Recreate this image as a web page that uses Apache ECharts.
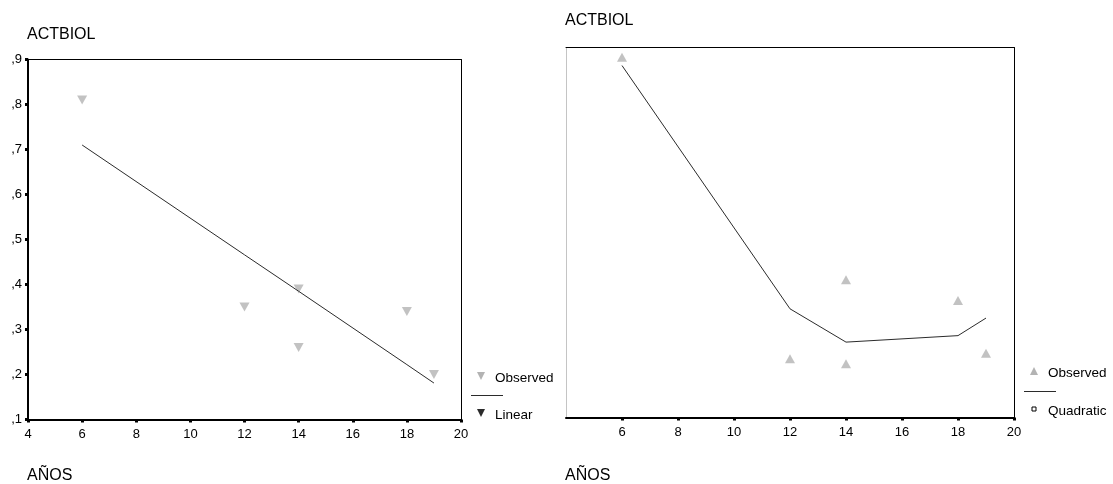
<!DOCTYPE html>
<html>
<head>
<meta charset="utf-8">
<script src="https://cdn.jsdelivr.net/npm/echarts@6/dist/echarts.min.js"></script>
<style>
  html, body { margin: 0; padding: 0; background: #fff; }
  #chart { width: 1113px; height: 484px; }
</style>
</head>
<body>
<div id="chart"></div>
<script>
// years of schooling (AÑOS) for each case
const years = [6, 12, 14, 14, 18, 19];
// left panel: observed ACTBIOL and linear fit
const observedLeft = [0.81, 0.35, 0.39, 0.26, 0.34, 0.20];
const fitYears = [6, 12, 14, 18, 19];
const linearFit = [0.71, 0.466, 0.385, 0.222, 0.181];
// right panel: observed ACTBIOL and quadratic fit (no y labels shown)
const observedRight = [0.879, 0.227, 0.398, 0.216, 0.353, 0.239];
const quadraticFit = [0.861, 0.335, 0.263, 0.277, 0.315];
// tick labels
const yTickLabels = [',1', ',2', ',3', ',4', ',5', ',6', ',7', ',8', ',9'];

const FONT = '"Liberation Sans", Arial, sans-serif';
const GRAY = '#b3b3b3';
const DARK = '#2b2b2b';

const pairs = (xs, ys) => xs.map((x, i) => [x, ys[i]]);

const chart = echarts.init(document.getElementById('chart'));

function bottomAxis(grid, hideMin) {
  return {
    type: 'value', gridIndex: grid, position: 'bottom',
    min: 4, max: 20, interval: 2,
    splitLine: { show: false },
    axisLine: { lineStyle: { color: '#000', width: 2 } },
    axisTick: { show: true, length: 3, lineStyle: { color: '#000', width: 3 } },
    axisLabel: {
      color: '#000', fontSize: 13, fontFamily: FONT, margin: 8,
      showMinLabel: !hideMin
    }
  };
}
function topAxis(grid) {
  return {
    type: 'value', gridIndex: grid, position: 'top',
    min: 4, max: 20,
    splitLine: { show: false }, axisTick: { show: false }, axisLabel: { show: false },
    axisLine: { lineStyle: { color: '#000', width: 1 } }
  };
}
function rightAxis(grid) {
  return {
    type: 'value', gridIndex: grid, position: 'right',
    min: 0.1, max: 0.9,
    splitLine: { show: false }, axisTick: { show: false }, axisLabel: { show: false },
    axisLine: { lineStyle: { color: '#000', width: 1 } }
  };
}

const option = {
  animation: false,
  backgroundColor: '#fff',
  textStyle: { fontFamily: FONT },
  title: [
    { text: 'ACTBIOL', left: 27, top: 27, padding: 0,
      textStyle: { fontSize: 16, fontWeight: 'normal', color: '#000', fontFamily: FONT, lineHeight: 16 } },
    { text: 'ACTBIOL', left: 565, top: 13, padding: 0,
      textStyle: { fontSize: 16, fontWeight: 'normal', color: '#000', fontFamily: FONT, lineHeight: 16 } },
    { text: 'AÑOS', left: 27, top: 468, padding: 0,
      textStyle: { fontSize: 16, fontWeight: 'normal', color: '#000', fontFamily: FONT, lineHeight: 16 } },
    { text: 'AÑOS', left: 565, top: 468, padding: 0,
      textStyle: { fontSize: 16, fontWeight: 'normal', color: '#000', fontFamily: FONT, lineHeight: 16 } }
  ],
  grid: [
    { left: 28, top: 59.5, width: 433, height: 360 },
    { left: 566, top: 47.5, width: 448, height: 370 }
  ],
  xAxis: [
    bottomAxis(0, false), topAxis(0),
    bottomAxis(1, true), topAxis(1)
  ],
  yAxis: [
    {
      type: 'value', gridIndex: 0, position: 'left',
      min: 0.1, max: 0.9, interval: 0.1,
      splitLine: { show: false },
      axisLine: { lineStyle: { color: '#000', width: 2 } },
      axisTick: { show: true, length: 3, lineStyle: { color: '#000', width: 3 } },
      axisLabel: {
        color: '#000', fontSize: 13, fontFamily: FONT, margin: 6,
        formatter: v => yTickLabels[Math.round(v * 10) - 1]
      }
    },
    rightAxis(0),
    {
      type: 'value', gridIndex: 1, position: 'left',
      min: 0.1, max: 0.9,
      splitLine: { show: false }, axisTick: { show: false }, axisLabel: { show: false },
      axisLine: { lineStyle: { color: '#c4c4c4', width: 1 } }
    },
    rightAxis(1)
  ],
  series: [
    {
      name: 'Observed', type: 'scatter', xAxisIndex: 0, yAxisIndex: 0,
      symbol: 'triangle', symbolRotate: 180, symbolSize: [10, 9],
      itemStyle: { color: GRAY },
      data: pairs(years, observedLeft)
    },
    {
      name: 'Linear', type: 'line', xAxisIndex: 0, yAxisIndex: 0,
      symbol: 'none', lineStyle: { color: DARK, width: 1 },
      data: pairs(fitYears, linearFit)
    },
    {
      name: 'Observed', type: 'scatter', xAxisIndex: 2, yAxisIndex: 2,
      symbol: 'triangle', symbolSize: [10, 9],
      itemStyle: { color: GRAY },
      data: pairs(years, observedRight)
    },
    {
      name: 'Quadratic', type: 'line', xAxisIndex: 2, yAxisIndex: 2,
      symbol: 'none', lineStyle: { color: DARK, width: 1 },
      data: pairs(fitYears, quadraticFit)
    }
  ],
  graphic: [
    // left legend
    { type: 'polygon', shape: { points: [[477, 372], [485, 372], [481, 380]] }, style: { fill: GRAY } },
    { type: 'text', x: 495, y: 378, style: { text: 'Observed', font: '13.5px ' + FONT, fill: '#000', verticalAlign: 'middle' } },
    { type: 'line', shape: { x1: 471, y1: 395.5, x2: 503, y2: 395.5 }, style: { stroke: DARK, lineWidth: 1 } },
    { type: 'polygon', shape: { points: [[477, 409], [485, 409], [481, 417]] }, style: { fill: DARK } },
    { type: 'text', x: 495, y: 415, style: { text: 'Linear', font: '13.5px ' + FONT, fill: '#000', verticalAlign: 'middle' } },
    // right legend
    { type: 'polygon', shape: { points: [[1030, 375], [1038, 375], [1034, 367]] }, style: { fill: GRAY } },
    { type: 'text', x: 1048, y: 373, style: { text: 'Observed', font: '13.5px ' + FONT, fill: '#000', verticalAlign: 'middle' } },
    { type: 'line', shape: { x1: 1024, y1: 391.5, x2: 1056, y2: 391.5 }, style: { stroke: DARK, lineWidth: 1 } },
    { type: 'rect', shape: { x: 1032, y: 407, width: 4, height: 4 }, style: { fill: '#fff', stroke: '#000', lineWidth: 1 } },
    { type: 'text', x: 1048, y: 411, style: { text: 'Quadratic', font: '13.5px ' + FONT, fill: '#000', verticalAlign: 'middle' } }
  ]
};

chart.setOption(option);
</script>
</body>
</html>
